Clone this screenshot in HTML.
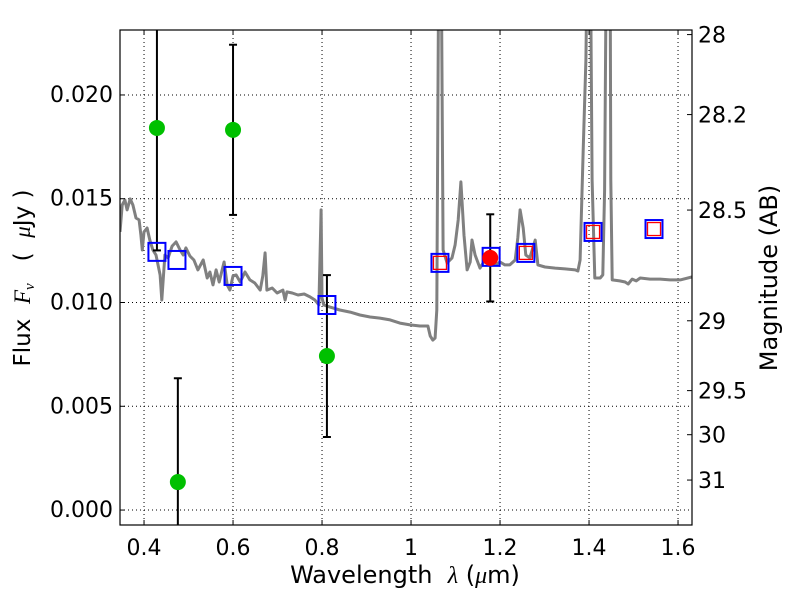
<!DOCTYPE html>
<html><head><meta charset="utf-8"><style>
body{margin:0;background:#fff;}
svg{display:block;font-family:"DejaVu Sans","Liberation Sans",sans-serif;}
text{white-space:pre;}
</style></head><body>
<svg id="chart" width="800" height="600" viewBox="0 0 800 600" xmlns="http://www.w3.org/2000/svg">
<defs><clipPath id="clip"><rect x="120" y="30" width="572" height="495"/></clipPath></defs>
<g id="grid"></g>
<g id="plot" clip-path="url(#clip)"></g>
<rect x="120" y="30" width="572" height="495" fill="none" stroke="#000" stroke-width="1.2"/>
<g id="axes"></g>
<text x="405" y="583" font-size="24" text-anchor="middle">Wavelength  <tspan font-family="'Liberation Serif',serif" font-style="italic">λ</tspan> (<tspan font-family="'Liberation Serif',serif" font-style="italic">μ</tspan>m)</text>
<text transform="translate(30,278) rotate(-90)" font-size="23" text-anchor="middle">Flux  <tspan font-family="'Liberation Serif',serif" font-style="italic">F<tspan font-size="15" dy="4">ν</tspan></tspan><tspan dy="-4">   (  </tspan><tspan font-family="'Liberation Serif',serif" font-style="italic">μ</tspan>Jy )</text>
<text transform="translate(777,278) rotate(-90)" font-size="24" text-anchor="middle">Magnitude (AB)</text>
</svg>
<script>
const specWave=[0.346,0.351,0.357,0.362,0.369,0.375,0.382,0.389,0.393,0.396,0.400,0.407,0.413,0.420,0.427,0.436,0.440,0.447,0.454,0.463,0.472,0.481,0.488,0.494,0.503,0.512,0.521,0.533,0.542,0.548,0.555,0.562,0.569,0.580,0.587,0.593,0.600,0.607,0.616,0.627,0.638,0.649,0.661,0.667,0.672,0.676,0.688,0.699,0.712,0.717,0.721,0.733,0.746,0.760,0.773,0.784,0.793,0.798,0.800,0.804,0.818,0.840,0.863,0.885,0.908,0.930,0.953,0.975,0.998,1.020,1.038,1.043,1.049,1.054,1.058,1.063,1.067,1.072,1.081,1.092,1.099,1.106,1.112,1.119,1.126,1.133,1.137,1.144,1.155,1.166,1.178,1.189,1.200,1.211,1.222,1.234,1.240,1.245,1.252,1.258,1.267,1.279,1.285,1.301,1.324,1.346,1.369,1.375,1.380,1.387,1.393,1.398,1.402,1.407,1.413,1.425,1.431,1.435,1.440,1.447,1.449,1.452,1.469,1.481,1.488,1.497,1.506,1.515,1.537,1.560,1.582,1.605,1.631];
const specFlux=[0.01340,0.01470,0.01494,0.01446,0.01499,0.01470,0.01407,0.01398,0.01325,0.01253,0.01340,0.01359,0.01301,0.01253,0.01229,0.01133,0.01012,0.01229,0.01215,0.01272,0.01292,0.01253,0.01229,0.01263,0.01224,0.01205,0.01157,0.01205,0.01118,0.01147,0.01085,0.01157,0.01099,0.01195,0.01085,0.01060,0.01128,0.01133,0.01099,0.01147,0.01109,0.01094,0.01060,0.01128,0.01239,0.01060,0.01070,0.01046,0.01060,0.01012,0.01051,0.01046,0.01036,0.01041,0.01027,0.01012,0.00988,0.01446,0.01022,0.00988,0.00978,0.00964,0.00954,0.00940,0.00930,0.00925,0.00916,0.00901,0.00892,0.00887,0.00887,0.00839,0.00819,0.00829,0.00964,0.030,0.030,0.01253,0.01191,0.01215,0.01277,0.01398,0.01581,0.01325,0.01157,0.01195,0.01301,0.01229,0.01166,0.01205,0.01181,0.01181,0.01195,0.01181,0.01181,0.01205,0.01311,0.01446,0.01359,0.01229,0.01215,0.01301,0.01181,0.01171,0.01166,0.01162,0.01157,0.01152,0.01205,0.01735,0.02169,0.030,0.030,0.01591,0.01118,0.01118,0.01133,0.01542,0.030,0.030,0.01591,0.01109,0.01104,0.01099,0.01089,0.01113,0.01104,0.01118,0.01113,0.01113,0.01109,0.01109,0.01123];
const photWave=[0.429,0.476,0.600,0.811];
const photFlux=[0.01841,0.00135,0.01832,0.00742];
const photErr=[0.0059,0.0050,0.0041,0.0039];
const specPhotWave=[1.178];
const specPhotFlux=[0.01215];
const specPhotErr=[0.0021];
const modelWave=[0.429,0.474,0.600,0.811,1.065,1.180,1.258,1.409,1.546];
const modelFlux=[0.01244,0.01205,0.01128,0.00988,0.01191,0.01220,0.01239,0.01340,0.01354];
const modelRedWave=[1.065,1.258,1.409,1.546];
const modelRedFlux=[0.01191,0.01239,0.01340,0.01354];
const xTicks=[0.4,0.6,0.8,1.0,1.2,1.4,1.6];
const xTickLabels=["0.4","0.6","0.8","1","1.2","1.4","1.6"];
const yTicks=[0.000,0.005,0.010,0.015,0.020];
const yTickLabels=["0.000","0.005","0.010","0.015","0.020"];
const magTicks=[28,28.2,28.5,29,29.5,30,31];
const magTickLabels=["28","28.2","28.5","29","29.5","30","31"];

const NS="http://www.w3.org/2000/svg";
const X0=120,X1=692,Y0=30,Y1=525,xmin=0.346,xmax=0.3460+572/445,ymin=-0.00072,ymax=0.02313;
const sx=v=>X0+(v-xmin)/(xmax-xmin)*(X1-X0);
const sy=v=>Y1-(v-ymin)/(ymax-ymin)*(Y1-Y0);
function mk(tag,attrs,parent){const e=document.createElementNS(NS,tag);for(const k in attrs)e.setAttribute(k,attrs[k]);parent.appendChild(e);return e;}
const grid=document.getElementById('grid'),plot=document.getElementById('plot'),axes=document.getElementById('axes');
xTicks.forEach((t,i)=>{
  const x=sx(t);
  const g=mk('line',{x1:x,x2:x,y1:Y0,y2:Y1,stroke:'#000','stroke-width':1,'stroke-dasharray':'1,3'},grid);
  
  
  mk('line',{x1:x,x2:x,y1:Y1,y2:Y1-5,stroke:'#000'},axes);
  mk('line',{x1:x,x2:x,y1:Y0,y2:Y0+5,stroke:'#000'},axes);
  const tx=mk('text',{x:x,y:Y1+30,'font-size':22,'text-anchor':'middle'},axes);
  tx.textContent=xTickLabels[i];
  
  
});
yTicks.forEach((t,i)=>{
  const y=sy(t);
  const g=mk('line',{x1:X0,x2:X1,y1:y,y2:y,stroke:'#000','stroke-width':1,'stroke-dasharray':'1,3'},grid);
  
  
  mk('line',{x1:X0,x2:X0+5,y1:y,y2:y,stroke:'#000'},axes);
  const tx=mk('text',{x:X0-7,y:y+7,'font-size':22,'text-anchor':'end'},axes);
  tx.textContent=yTickLabels[i];
  
  
});
magTicks.forEach((m,i)=>{
  const y=sy(Math.pow(10,(23.9-m)/2.5));
  mk('line',{x1:X1-5,x2:X1,y1:y,y2:y,stroke:'#000'},axes);
  const tx=mk('text',{x:X1+6,y:y+8,'font-size':22,'text-anchor':'start'},axes);
  tx.textContent=magTickLabels[i];
  
  
});
let d='';specWave.forEach((w,i)=>{d+=(i?'L':'M')+sx(w).toFixed(1)+','+sy(specFlux[i]).toFixed(1);});
const sp=mk('path',{d:d,fill:'none',stroke:'#808080','stroke-width':3,'stroke-linejoin':'round'},plot);


function errbar(w,f,e,name){
  const x=sx(w);
  const g=mk('g',{},plot);
  
  
  mk('line',{x1:x,x2:x,y1:sy(f+e),y2:sy(f-e),stroke:'#000','stroke-width':2},g);
  mk('line',{x1:x-4,x2:x+4,y1:sy(f+e),y2:sy(f+e),stroke:'#000','stroke-width':2},g);
  mk('line',{x1:x-4,x2:x+4,y1:sy(f-e),y2:sy(f-e),stroke:'#000','stroke-width':2},g);
}
photWave.forEach((w,i)=>errbar(w,photFlux[i],photErr[i],'photometry-errorbar'));
specPhotWave.forEach((w,i)=>errbar(w,specPhotFlux[i],specPhotErr[i],'spectrum-errorbar'));
photWave.forEach((w,i)=>{
  const c=mk('circle',{cx:sx(w),cy:sy(photFlux[i]),r:8,fill:'#00c000'},plot);
  
  
});
modelWave.forEach((w,i)=>{
  const r=mk('rect',{x:sx(w)-8.5,y:sy(modelFlux[i])-9,width:17,height:18,fill:'none',stroke:'#0000ff','stroke-width':2},plot);
  
  
});
modelRedWave.forEach((w,i)=>{
  const r=mk('rect',{x:sx(w)-6.5,y:sy(modelRedFlux[i])-6.5,width:13,height:13,fill:'none',stroke:'#ff0000','stroke-width':1.3},plot);
  
  
});
specPhotWave.forEach((w,i)=>{
  const c=mk('circle',{cx:sx(w),cy:sy(specPhotFlux[i]),r:8,fill:'#ff0000'},plot);
  
  
});
</script>
</body></html>
